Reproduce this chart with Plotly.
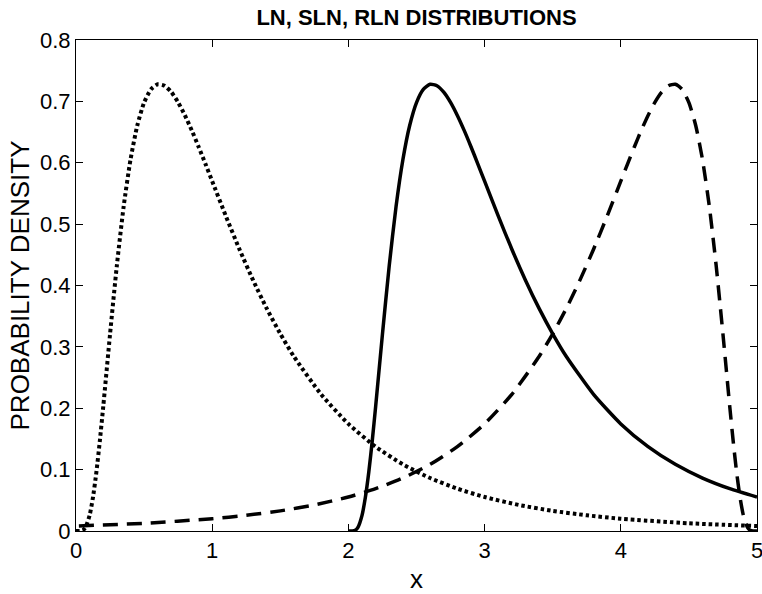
import plotly.graph_objects as go

# LN (dotted)
ln_x = [0, 0.03, 0.05, 0.07, 0.1, 0.125, 0.15, 0.175, 0.2, 0.25, 0.3, 0.35, 0.4, 0.45, 0.5,
        0.55, 0.6, 0.65, 0.7, 0.75, 0.8, 0.85, 0.9, 0.95, 1.0, 1.1, 1.2, 1.3, 1.4, 1.5, 1.6,
        1.8, 2.0, 2.2, 2.4, 2.6, 2.8, 3.0, 3.25, 3.5, 3.75, 4.0, 4.5, 5.0]
ln_y = [0, 0.0001, 0.0012, 0.006, 0.0255, 0.0553, 0.0965, 0.1467, 0.2027, 0.3208, 0.4327,
        0.5289, 0.6049, 0.6607, 0.6981, 0.7196, 0.7278, 0.7255, 0.7151, 0.6984, 0.6771,
        0.6527, 0.6261, 0.5983, 0.5699, 0.5133, 0.4591, 0.4087, 0.3627, 0.3213, 0.2843,
        0.2226, 0.1745, 0.1374, 0.1086, 0.0863, 0.0690, 0.0554, 0.0425, 0.0328, 0.0256,
        0.0200, 0.0126, 0.0081]

# SLN (solid)
sln_x = [2.0, 2.03, 2.05, 2.07, 2.1, 2.125, 2.15, 2.175, 2.2, 2.25, 2.3, 2.35, 2.4, 2.45,
         2.5, 2.55, 2.6, 2.65, 2.7, 2.75, 2.8, 2.85, 2.9, 2.95, 3.0, 3.1, 3.2, 3.3, 3.4, 3.5,
         3.6, 3.8, 4.0, 4.2, 4.4, 4.6, 4.8, 5.0]
sln_y = [0, 0.0001, 0.0012, 0.006, 0.0255, 0.0553, 0.0965, 0.1467, 0.2027, 0.3208, 0.4327,
         0.5289, 0.6049, 0.6607, 0.6981, 0.7196, 0.7278, 0.7255, 0.7151, 0.6984, 0.6771,
         0.6527, 0.6261, 0.5983, 0.5699, 0.5133, 0.4591, 0.4087, 0.3627, 0.3213, 0.2843,
         0.2226, 0.1745, 0.1374, 0.1086, 0.0863, 0.0690, 0.0554]

# RLN (dashed)
rln_x = [5.0, 4.97, 4.95, 4.93, 4.9, 4.875, 4.85, 4.825, 4.8, 4.75, 4.7, 4.65, 4.6, 4.55,
         4.5, 4.45, 4.4, 4.35, 4.3, 4.25, 4.2, 4.15, 4.1, 4.05, 4.0, 3.9, 3.8, 3.7, 3.6, 3.5,
         3.4, 3.2, 3.0, 2.8, 2.6, 2.4, 2.2, 2.0, 1.75, 1.5, 1.25, 1.0, 0.5, 0.0]
rln_y = [0, 0.0001, 0.0012, 0.006, 0.0255, 0.0553, 0.0965, 0.1467, 0.2027, 0.3208, 0.4327,
         0.5289, 0.6049, 0.6607, 0.6981, 0.7196, 0.7278, 0.7255, 0.7151, 0.6984, 0.6771,
         0.6527, 0.6261, 0.5983, 0.5699, 0.5133, 0.4591, 0.4087, 0.3627, 0.3213, 0.2843,
         0.2226, 0.1745, 0.1374, 0.1086, 0.0863, 0.0690, 0.0554, 0.0425, 0.0328, 0.0256,
         0.0200, 0.0126, 0.0081]

x_ticks = [0, 1, 2, 3, 4, 5]
y_ticks = [0, 0.1, 0.2, 0.3, 0.4, 0.5, 0.6, 0.7, 0.8]
y_tick_text = ["0", "0.1", "0.2", "0.3", "0.4", "0.5", "0.6", "0.7", "0.8"]

FONT = "Liberation Sans, Arial, Helvetica, sans-serif"

fig = go.Figure()
fig.add_trace(go.Scatter(x=ln_x, y=ln_y, mode="lines", name="LN",
                         line=dict(color="black", width=4, dash="3.5px,3px", shape="spline", smoothing=0.6)))
fig.add_trace(go.Scatter(x=sln_x, y=sln_y, mode="lines", name="SLN",
                         line=dict(color="black", width=3.5, dash="solid", shape="spline", smoothing=0.6)))
fig.add_trace(go.Scatter(x=rln_x, y=rln_y, mode="lines", name="RLN",
                         line=dict(color="black", width=3.5, dash="15px,9px", shape="spline", smoothing=0.6)))

axis_common = dict(showgrid=False, zeroline=False, showline=True, linecolor="black",
                   linewidth=1, mirror="ticks", ticks="inside", ticklen=7, tickcolor="black",
                   tickwidth=1, ticklabeloverflow="allow", automargin=False,
                   tickfont=dict(family=FONT, size=22, color="black"))

fig.update_layout(
    width=762, height=594,
    margin=dict(l=76, r=5, t=40, b=63, autoexpand=False),
    paper_bgcolor="white", plot_bgcolor="white",
    showlegend=False,
    title=dict(text="<b>LN, SLN, RLN DISTRIBUTIONS</b>", x=0.5, xanchor="center",
               y=1 - 17 / 594, yanchor="middle", xref="paper",
               font=dict(family=FONT, size=22, color="black")),
    xaxis=dict(range=[0, 5], tickvals=x_ticks, ticktext=[str(v) for v in x_ticks],
               title=dict(text="x", font=dict(family=FONT, size=26, color="black"), standoff=14),
               **axis_common),
    yaxis=dict(range=[0, 0.8], tickvals=y_ticks, ticktext=y_tick_text,
               title=dict(text="PROBABILITY DENSITY", font=dict(family=FONT, size=26, color="black"),
                          standoff=2),
               **axis_common),
)

fig.write_html("out.html")
